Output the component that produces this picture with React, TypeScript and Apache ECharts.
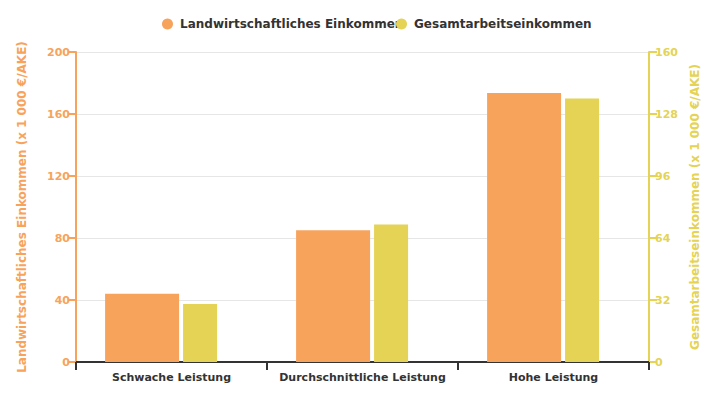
import React, { useEffect, useRef } from "react";
import * as echarts from "echarts";

const categories = ["Schwache Leistung", "Durchschnittliche Leistung", "Hohe Leistung"];
const seriesNames = ["Landwirtschaftliches Einkommen", "Gesamtarbeitseinkommen"];
const landwirtschaftlich = [44, 85, 173.5];
const gesamtarbeit = [30, 71, 136];
const leftTicks = { min: 0, max: 200, interval: 40 };
const rightTicks = { min: 0, max: 160, interval: 32 };
const leftAxisName = "Landwirtschaftliches Einkommen (x 1 000 €/AKE)";
const rightAxisName = "Gesamtarbeitseinkommen (x 1 000 €/AKE)";

const ORANGE = "#f7a35c";
const YELLOW = "#e4d354";
const FONT = "DejaVu Sans";

export default function App() {
  const ref = useRef<HTMLDivElement>(null);
  useEffect(() => {
    if (!ref.current) return;
    document.body.style.margin = "0";
    const chart = echarts.init(ref.current, undefined, { renderer: "svg" });
    const legendBase = {
      orient: "horizontal",
      top: 13,
      icon: "circle",
      itemWidth: 15,
      itemHeight: 11,
      selectedMode: false,
      textStyle: { fontFamily: FONT, fontSize: 12, fontWeight: "bold", color: "#333333" },
    };
    chart.setOption({
      animation: false,
      textStyle: { fontFamily: FONT },
      legend: [
        { ...legendBase, left: 157, data: [seriesNames[0]] },
        { ...legendBase, left: 391, data: [seriesNames[1]] },
      ],
      grid: { left: 76, right: 76, top: 52, bottom: 38, containLabel: false, outerBoundsMode: "none" },
      xAxis: {
        type: "category",
        data: categories,
        axisLine: { show: true, lineStyle: { color: "#333333", width: 2 } },
        axisTick: { show: true, interval: 0, alignWithLabel: false, length: 8, lineStyle: { color: "#333333", width: 2 } },
        axisLabel: { interval: 0, fontFamily: FONT, fontSize: 11, fontWeight: "bold", color: "#333333", margin: 10 },
        splitLine: { show: false },
      },
      yAxis: [
        {
          type: "value",
          position: "left",
          ...leftTicks,
          name: leftAxisName,
          nameLocation: "middle",
          nameGap: 48,
          nameTextStyle: { fontFamily: FONT, fontSize: 12, fontWeight: "bold", color: ORANGE },
          axisLine: { show: true, lineStyle: { color: ORANGE, width: 2 } },
          axisTick: { show: true, length: 8, lineStyle: { color: ORANGE, width: 2 } },
          axisLabel: { fontFamily: FONT, fontSize: 11, fontWeight: "bold", color: ORANGE, margin: 6 },
          splitLine: { show: true, lineStyle: { color: "#e6e6e6", width: 1 } },
        },
        {
          type: "value",
          position: "right",
          ...rightTicks,
          name: rightAxisName,
          nameLocation: "middle",
          nameGap: 40,
          nameTextStyle: { fontFamily: FONT, fontSize: 12, fontWeight: "bold", color: YELLOW },
          axisLine: { show: true, lineStyle: { color: YELLOW, width: 2 } },
          axisTick: { show: true, length: 8, lineStyle: { color: YELLOW, width: 2 } },
          axisLabel: { fontFamily: FONT, fontSize: 11, fontWeight: "bold", color: YELLOW, margin: 6 },
          splitLine: { show: false },
        },
      ],
      series: [
        {
          type: "bar",
          name: seriesNames[0],
          yAxisIndex: 0,
          data: landwirtschaftlich,
          barWidth: 74,
          barGap: "5.4%",
          itemStyle: { color: ORANGE },
          z: 3,
        },
        {
          type: "bar",
          name: seriesNames[1],
          yAxisIndex: 1,
          data: gesamtarbeit,
          barWidth: 34,
          barGap: "5.4%",
          itemStyle: { color: YELLOW },
          z: 3,
        },
        {
          // empty layout spacer reproducing the original off-centre grouping
          type: "bar",
          name: "spacer",
          yAxisIndex: 0,
          data: [],
          barWidth: 19,
          barGap: "5.4%",
          silent: true,
        },
      ],
    });
    return () => chart.dispose();
  }, []);
  return (
    <div style={{ position: "absolute", left: 0, top: 0 }}>
      <div ref={ref} style={{ width: 725, height: 400 }} />
    </div>
  );
}
